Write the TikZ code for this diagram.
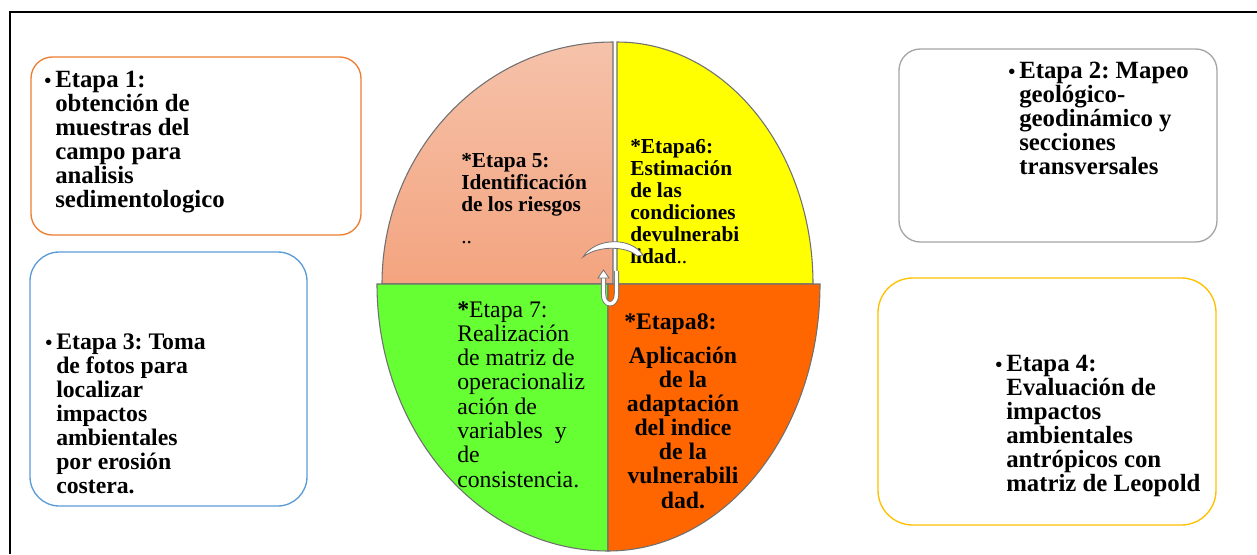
\documentclass[tikz,border=0pt]{standalone}
\usepackage{fontspec}
\setmainfont{Liberation Serif}
\frenchspacing

\definecolor{boxorange}{HTML}{ED7D31}
\definecolor{boxgray}{HTML}{A5A5A5}
\definecolor{boxblue}{HTML}{5B9BD5}
\definecolor{boxgold}{HTML}{FFC000}
\definecolor{salmontop}{HTML}{F5C2AA}
\definecolor{salmonbot}{HTML}{F4A47F}
\definecolor{pieyellow}{HTML}{FFFF00}
\definecolor{piegreen}{HTML}{66FF33}
\definecolor{pieorange}{HTML}{FF6600}
\definecolor{pieline}{HTML}{707070}

\newcommand{\bul}{\makebox[0pt][r]{\fontsize{15}{15}\selectfont\textbullet\hspace{3pt}}}

\begin{document}
\begin{tikzpicture}[x=0.75pt,y=-0.75pt,
  caja/.style={line width=1pt},
  etapa/.style={inner sep=0pt, align=left, anchor=base west,
    font=\fontsize{17.8}{18}\selectfont\bfseries},
  ancha/.style={etapa, font=\fontsize{18.6}{18}\selectfont\bfseries},
  cuarto/.style={inner sep=0pt, align=left, anchor=base west,
    font=\fontsize{16}{16.5}\selectfont\bfseries}]

  \useasboundingbox (0,0) rectangle (1257,554);

  \def\quadA{(613,284) -- (382,284) arc[start angle=180,end angle=270,x radius=231,y radius=242] -- cycle}
  \def\quadB{(617,284) -- (617,42) arc[start angle=270,end angle=360,x radius=196,y radius=242] -- cycle}
  \def\quadC{(608,284) -- (377,284) arc[start angle=180,end angle=90,x radius=231,y radius=267] -- cycle}
  \def\quadD{(608,284) -- (820,284) arc[start angle=0,end angle=90,x radius=212,y radius=267] -- cycle}

  % marco
  \draw[line width=1.6pt] (10,554) -- (10,12) -- (1257,12);

  % cajas (nodes sit on the baseline of their last line)
  \draw[caja, draw=boxorange, rounded corners=16pt] (31,57) rectangle (361,235);
  \draw[caja, draw=boxgray, rounded corners=16pt] (899,49) rectangle (1217,242);
  \draw[caja, draw=boxblue, rounded corners=22pt] (30,252) rectangle (307,506);
  \draw[caja, draw=boxgold, rounded corners=26pt] (878,278) rectangle (1216,525);

  \node[ancha] (e1) at (55,207) {\bul Etapa 1:\\obtención de\\muestras del\\campo para\\analisis\\sedimentologico};
  \node[ancha] (e2) at (1019,174) {\bul Etapa 2: Mapeo\\geológico-\\geodinámico y\\secciones\\transversales};
  \node[etapa] (e3) at (56,493) {\bul Etapa 3: Toma\\de fotos para\\localizar\\impactos\\ambientales\\por erosión\\costera.};
  \node[ancha] (e4) at (1006,491) {\bul Etapa 4:\\Evaluación de\\impactos\\ambientales\\antrópicos con\\matriz de Leopold};

  % circulo
  \begin{scope}[draw=pieline, line width=0.8pt]
    \path[draw, top color=salmontop, bottom color=salmonbot] \quadA;
    \filldraw[fill=pieyellow] \quadB;
    \filldraw[fill=piegreen] \quadC;
    \filldraw[fill=pieorange] \quadD;
  \end{scope}

  \node[cuarto] (e5) at (461,243) {*Etapa 5:\\Identificación\\de los riesgos\\[6.8pt]{\mdseries ..}};
  \node[cuarto] (e6) at (630,263) {*Etapa6:\\Estimación\\de las\\condiciones\\devulnerabi\\lidad{\mdseries ..}};
  \node[etapa, font=\fontsize{17.8}{18.2}\selectfont] (e7) at (457,487)
    {\textbf{*}Etapa 7:\\Realización\\de matriz de\\operacionaliz\\ación de\\variables\ \ y\\de\\consistencia.};
  \node[etapa] (e8) at (624,329) {*Etapa8:};
  \node[etapa, align=center, anchor=base, font=\fontsize{17.8}{18.1}\selectfont\bfseries] (e8txt) at (683,508)
    {Aplicación\\de la\\adaptación\\del indice\\de la\\vulnerabili\\dad.};

  % flechas del centro
  \filldraw[fill=white, draw=pieline, line width=0.6pt] (583,257) .. controls (595,238) and (630,236) .. (643,255)
    -- (637,256) .. controls (627,246) and (598,245) .. cycle;
  \draw[draw=pieline, line width=0.6pt, double=white, double distance=2.6pt]
    (603.5,277) -- (603.5,294) .. controls (603.5,307) and (616.5,307) .. (616.5,294) -- (616.5,271);
  \filldraw[fill=white, draw=pieline, line width=0.6pt] (598,278) -- (603.5,270) -- (609,278) -- cycle;

\end{tikzpicture}
\end{document}
